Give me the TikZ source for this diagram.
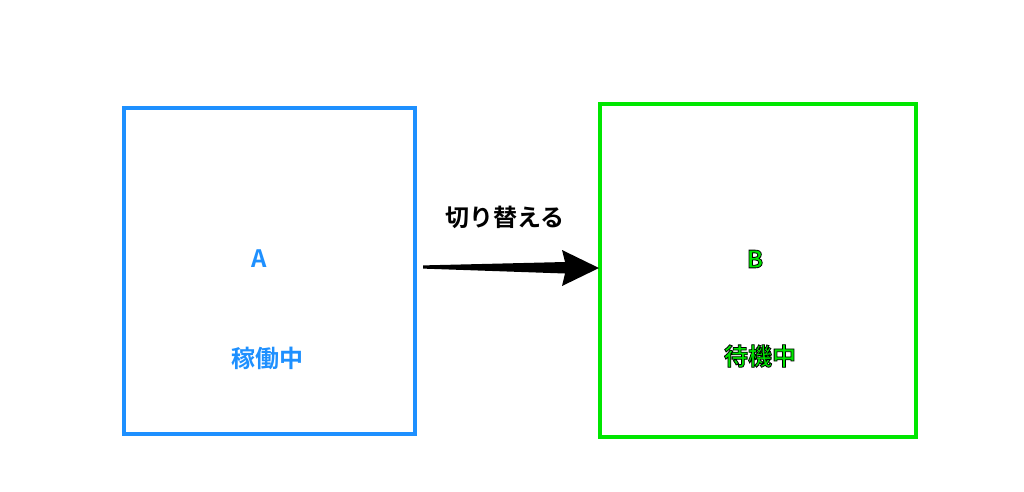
\documentclass[tikz,border=0pt]{standalone}
\usepackage{fontspec}
\newfontfamily\cjk{Noto Sans CJK JP Bold}
\definecolor{blueA}{HTML}{1E90FF}
\definecolor{greenB}{HTML}{00E600}
\usetikzlibrary{calc}
\newcommand\blackoutline[1]{\textcolor{greenB}{\special{pdf:literal direct 0 0 0 RG 2 Tr 0.8 w}#1\special{pdf:literal direct 0 Tr}}}
\begin{document}
\begin{tikzpicture}[x=1pt,y=-1pt,
  boxA/.style={draw=blueA,line width=3.2pt},
  boxB/.style={draw=greenB,line width=3.2pt},
  lbl/.style={font=\cjk\fontsize{24}{26}\selectfont},
]
\useasboundingbox (0,0) rectangle (1024,491);
\draw[boxA] (124,108) rectangle (415,434);
\draw[boxB] (600,104) rectangle (916,437);
\node[lbl,text=blueA] (ta) at (259,259) {A};
\node[lbl,text=blueA] (tb) at (267,358) {稼働中};
\node[lbl] (tc) at (755,259) {\blackoutline{B}};
\node[lbl] (td) at (760,356) {\blackoutline{待機中}};
\node[lbl,text=black] (te) at (505,217) {切り替える};
\coordinate (s) at (423,267);
\coordinate (t) at (599,268);
\fill[black] ($(s)+(0,-1.6)$) -- (565,262) -- (562,250) -- (t) -- (562,286) -- (565,273.5) -- ($(s)+(0,1.6)$) -- cycle;
\end{tikzpicture}
\end{document}
